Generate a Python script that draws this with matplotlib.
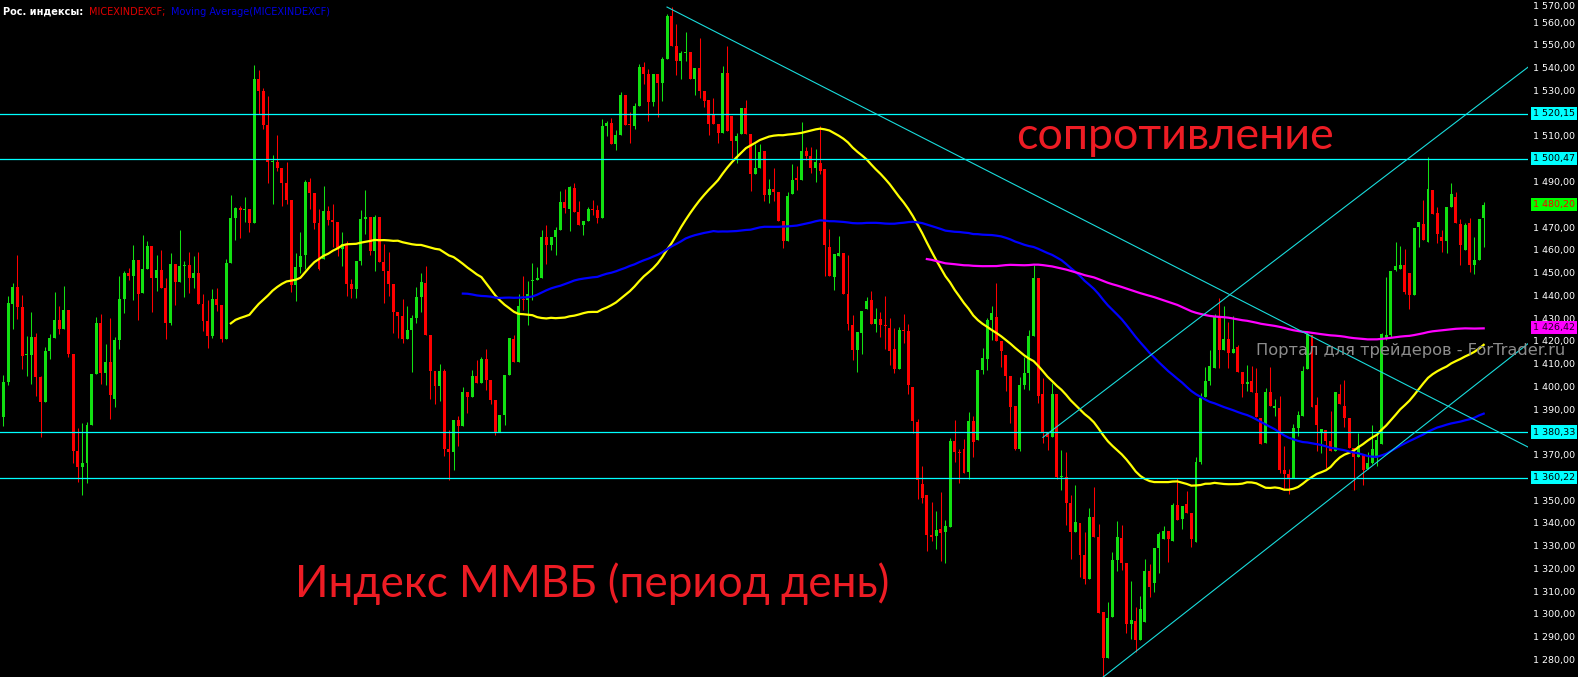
import numpy as np
import pandas as pd
import matplotlib
matplotlib.use('Agg')
import matplotlib.pyplot as plt
from matplotlib.transforms import blended_transform_factory

# Дневные свечи индекса ММВБ
opens = [
    1387.0, 1402.4, 1436.6, 1444.1, 1435.3, 1414.2, 1414.2, 1422.1, 1404.5, 1393.6,
    1416.0, 1421.7, 1429.6, 1425.6, 1434.0, 1414.7, 1372.0, 1365.0, 1366.8, 1383.5,
    1405.9, 1428.3, 1406.3, 1411.1, 1394.9, 1420.8, 1438.8, 1450.2, 1448.9, 1455.9,
    1441.5, 1452.0, 1462.1, 1448.0, 1451.6, 1443.7, 1428.3, 1454.2, 1446.3, 1453.3,
    1453.8, 1448.0, 1450.2, 1436.6, 1429.1, 1422.6, 1438.8, 1436.2, 1421.2, 1454.6,
    1474.4, 1478.8, 1477.9, 1478.4, 1472.2, 1535.5, 1530.2, 1515.3, 1499.0, 1499.0,
    1496.4, 1489.8, 1482.3, 1445.0, 1452.9, 1458.2, 1490.2, 1485.4, 1472.2, 1456.4,
    1477.5, 1473.5, 1472.6, 1460.8, 1463.0, 1445.4, 1443.2, 1455.5, 1474.0, 1474.8,
    1459.9, 1474.8, 1455.1, 1451.1, 1445.4, 1433.1, 1431.3, 1421.2, 1425.2, 1430.5,
    1439.7, 1445.9, 1423.0, 1407.2, 1400.6, 1407.2, 1372.9, 1371.6, 1385.7, 1383.0,
    1397.9, 1395.8, 1405.0, 1401.9, 1412.5, 1403.2, 1394.4, 1380.4, 1387.9, 1405.4,
    1421.2, 1411.1, 1438.8, 1438.4, 1446.7, 1447.2, 1448.0, 1466.1, 1462.5, 1466.1,
    1469.1, 1481.4, 1478.4, 1487.6, 1477.0, 1471.3, 1473.1, 1478.4, 1477.9, 1474.4,
    1514.8, 1516.2, 1506.9, 1510.9, 1528.5, 1515.7, 1514.8, 1523.6, 1540.8, 1537.7,
    1525.4, 1537.7, 1533.7, 1544.3, 1563.2, 1550.0, 1543.4, 1546.9, 1547.4, 1535.5,
    1540.3, 1530.2, 1526.3, 1519.7, 1515.7, 1511.8, 1538.1, 1519.2, 1508.2, 1511.3,
    1522.7, 1511.3, 1493.7, 1496.4, 1503.9, 1484.5, 1487.2, 1485.8, 1473.1, 1464.3,
    1484.9, 1492.0, 1491.1, 1503.9, 1501.7, 1496.4, 1498.6, 1495.9, 1461.7, 1448.5,
    1457.7, 1459.0, 1441.0, 1427.4, 1416.4, 1423.9, 1434.4, 1438.4, 1427.8, 1430.0,
    1427.4, 1426.1, 1416.8, 1408.1, 1425.2, 1424.8, 1400.1, 1384.8, 1357.5, 1352.7,
    1335.1, 1334.7, 1337.8, 1336.4, 1338.6, 1376.4, 1371.6, 1372.9, 1362.8, 1385.2,
    1376.9, 1407.6, 1412.5, 1429.6, 1430.9, 1420.4, 1414.2, 1405.0, 1391.8, 1372.9,
    1401.0, 1406.3, 1422.6, 1448.0, 1397.1, 1380.4, 1378.2, 1397.1, 1360.6, 1360.6,
    1349.2, 1336.4, 1340.4, 1326.3, 1315.8, 1343.0, 1334.2, 1301.3, 1281.1, 1299.1,
    1324.1, 1333.8, 1322.8, 1296.0, 1297.3, 1289.0, 1296.9, 1319.3, 1314.0, 1329.4,
    1333.4, 1336.9, 1332.5, 1348.3, 1342.2, 1348.7, 1344.8, 1332.0, 1367.2, 1395.8,
    1402.8, 1408.5, 1430.9, 1416.4, 1421.2, 1415.1, 1417.7, 1406.7, 1401.5, 1402.8,
    1397.5, 1386.5, 1375.5, 1398.0, 1391.0, 1391.0, 1363.7, 1362.0, 1360.2, 1382.2,
    1387.5, 1408.1, 1423.0, 1392.2, 1380.0, 1381.3, 1376.4, 1372.0, 1397.1, 1391.8,
    1386.5, 1373.4, 1369.4, 1370.3, 1364.1, 1366.8, 1369.0, 1375.1, 1421.7, 1423.0,
    1451.6, 1452.0, 1453.8, 1450.2, 1440.6, 1470.5, 1471.8, 1463.9, 1486.7, 1476.6,
    1466.1, 1464.3, 1479.2, 1483.6, 1471.8, 1460.3, 1472.2, 1453.8, 1456.0, 1474.4,
]
closes = [
    1402.4, 1437.1, 1444.1, 1435.3, 1413.8, 1414.6, 1422.1, 1404.5, 1393.6, 1416.0,
    1421.7, 1429.6, 1425.6, 1434.0, 1414.7, 1372.0, 1365.0, 1366.8, 1383.5, 1405.9,
    1428.3, 1406.3, 1411.1, 1396.6, 1420.8, 1438.8, 1450.2, 1448.9, 1455.9, 1441.0,
    1452.0, 1462.1, 1448.0, 1451.6, 1443.7, 1428.3, 1454.2, 1446.3, 1453.3, 1453.8,
    1448.0, 1450.2, 1436.6, 1429.1, 1422.6, 1438.8, 1436.2, 1421.2, 1454.6, 1474.4,
    1478.8, 1477.9, 1478.4, 1472.2, 1535.5, 1530.2, 1515.3, 1499.0, 1499.5, 1496.4,
    1489.8, 1482.3, 1445.0, 1452.9, 1457.7, 1490.2, 1485.4, 1472.2, 1452.0, 1477.5,
    1473.5, 1472.6, 1460.8, 1463.0, 1445.4, 1443.2, 1455.5, 1474.0, 1474.8, 1459.9,
    1474.8, 1455.1, 1451.1, 1445.4, 1433.1, 1431.3, 1421.2, 1425.2, 1430.5, 1439.7,
    1446.3, 1423.0, 1407.2, 1400.6, 1407.2, 1372.9, 1371.6, 1385.7, 1383.0, 1397.9,
    1395.8, 1405.0, 1401.9, 1412.5, 1403.2, 1394.4, 1380.4, 1387.9, 1405.4, 1421.7,
    1411.1, 1435.7, 1438.4, 1441.0, 1447.2, 1448.0, 1466.1, 1462.5, 1466.1, 1469.1,
    1481.4, 1478.8, 1488.0, 1477.0, 1471.3, 1473.1, 1478.4, 1477.9, 1474.4, 1514.8,
    1516.2, 1506.9, 1510.9, 1528.5, 1515.3, 1515.3, 1523.6, 1540.8, 1537.7, 1525.4,
    1537.7, 1533.7, 1544.3, 1563.2, 1550.0, 1543.4, 1546.9, 1547.4, 1535.5, 1540.3,
    1530.2, 1525.8, 1515.7, 1515.7, 1511.8, 1538.1, 1512.6, 1508.2, 1510.4, 1522.7,
    1511.3, 1493.7, 1496.4, 1503.4, 1484.5, 1487.2, 1485.8, 1473.1, 1464.3, 1484.1,
    1491.1, 1491.1, 1503.9, 1501.7, 1496.4, 1499.0, 1495.1, 1462.5, 1448.9, 1458.6,
    1459.0, 1441.0, 1427.8, 1416.4, 1424.3, 1433.5, 1437.9, 1427.8, 1430.0, 1427.4,
    1426.9, 1416.0, 1408.1, 1425.2, 1424.8, 1401.0, 1385.2, 1359.3, 1351.4, 1335.1,
    1334.2, 1337.3, 1336.0, 1339.1, 1376.4, 1371.6, 1371.1, 1362.4, 1385.2, 1376.0,
    1407.6, 1412.9, 1429.6, 1432.7, 1420.4, 1416.0, 1405.0, 1391.4, 1372.9, 1401.0,
    1406.3, 1422.6, 1448.0, 1396.2, 1380.4, 1378.2, 1397.1, 1360.6, 1361.0, 1349.2,
    1336.4, 1340.8, 1326.3, 1315.8, 1343.0, 1334.2, 1300.8, 1281.1, 1298.6, 1324.1,
    1334.2, 1322.8, 1296.0, 1297.8, 1289.0, 1302.6, 1319.3, 1312.3, 1329.4, 1335.6,
    1336.9, 1333.4, 1348.3, 1341.7, 1347.9, 1344.8, 1333.4, 1367.2, 1395.3, 1402.8,
    1409.4, 1430.9, 1416.4, 1421.2, 1415.1, 1416.8, 1406.7, 1401.5, 1402.4, 1398.0,
    1387.0, 1375.1, 1398.0, 1391.8, 1391.8, 1363.7, 1362.0, 1360.2, 1382.2, 1387.9,
    1407.2, 1423.4, 1391.4, 1383.5, 1381.7, 1376.4, 1372.0, 1398.0, 1392.7, 1386.5,
    1373.4, 1369.4, 1374.2, 1363.7, 1366.8, 1372.9, 1376.9, 1423.4, 1423.0, 1451.1,
    1453.3, 1453.8, 1441.9, 1440.6, 1470.0, 1472.6, 1464.7, 1487.2, 1476.2, 1467.4,
    1464.3, 1479.2, 1484.9, 1472.2, 1462.5, 1471.3, 1453.8, 1456.0, 1474.0, 1480.2,
]
highs = [
    1405.4, 1440.1, 1445.9, 1458.2, 1440.6, 1422.6, 1433.1, 1424.0, 1405.0, 1417.7,
    1423.4, 1441.9, 1435.7, 1444.5, 1434.0, 1414.7, 1382.1, 1384.3, 1384.8, 1405.9,
    1430.9, 1432.2, 1419.1, 1430.5, 1422.1, 1448.9, 1451.1, 1452.4, 1462.5, 1455.9,
    1466.9, 1464.3, 1462.1, 1458.2, 1460.3, 1448.0, 1459.0, 1454.2, 1469.1, 1455.5,
    1459.5, 1457.7, 1459.5, 1441.0, 1438.4, 1443.2, 1443.7, 1436.2, 1456.4, 1484.5,
    1479.2, 1479.7, 1483.6, 1478.4, 1541.6, 1539.4, 1531.5, 1528.0, 1502.1, 1510.9,
    1496.4, 1499.0, 1482.3, 1459.0, 1468.3, 1491.1, 1492.0, 1485.4, 1478.4, 1488.5,
    1479.7, 1480.6, 1472.6, 1468.3, 1464.3, 1447.6, 1455.5, 1477.9, 1486.7, 1474.8,
    1475.7, 1474.8, 1463.0, 1459.5, 1445.4, 1433.1, 1438.8, 1435.7, 1431.8, 1444.1,
    1450.2, 1453.3, 1423.0, 1407.2, 1410.3, 1408.1, 1381.3, 1385.7, 1387.4, 1400.1,
    1397.9, 1407.6, 1412.0, 1413.3, 1416.8, 1403.2, 1394.4, 1387.9, 1405.4, 1421.7,
    1423.0, 1441.0, 1448.9, 1446.7, 1454.6, 1452.9, 1469.1, 1471.3, 1466.1, 1470.5,
    1486.3, 1487.2, 1488.5, 1489.8, 1481.9, 1473.1, 1479.2, 1482.3, 1480.1, 1517.9,
    1517.0, 1518.4, 1513.1, 1529.8, 1528.5, 1521.0, 1524.9, 1542.1, 1543.0, 1539.9,
    1537.7, 1537.7, 1545.1, 1564.1, 1567.1, 1559.7, 1547.8, 1556.1, 1547.4, 1540.3,
    1553.5, 1530.2, 1526.3, 1527.1, 1515.7, 1541.2, 1550.0, 1519.2, 1511.8, 1522.7,
    1526.3, 1511.3, 1507.0, 1507.0, 1503.9, 1491.5, 1496.4, 1485.8, 1473.1, 1485.8,
    1498.1, 1497.3, 1516.6, 1505.6, 1505.6, 1504.7, 1514.8, 1495.9, 1469.6, 1458.6,
    1466.5, 1459.0, 1458.2, 1431.8, 1424.3, 1433.5, 1439.7, 1442.3, 1434.9, 1433.1,
    1440.1, 1430.5, 1426.1, 1426.5, 1432.2, 1427.8, 1400.1, 1386.1, 1365.4, 1352.7,
    1349.6, 1345.7, 1354.0, 1341.7, 1377.7, 1385.7, 1372.9, 1377.3, 1389.2, 1387.4,
    1407.6, 1417.3, 1430.5, 1435.7, 1445.9, 1420.4, 1414.2, 1405.0, 1391.8, 1404.5,
    1413.3, 1425.2, 1453.8, 1448.0, 1404.1, 1380.4, 1401.9, 1397.1, 1372.5, 1371.6,
    1352.7, 1357.1, 1340.4, 1336.4, 1347.0, 1356.2, 1340.0, 1301.3, 1305.7, 1327.6,
    1341.3, 1339.5, 1322.8, 1314.9, 1303.5, 1308.3, 1324.6, 1322.4, 1329.4, 1336.4,
    1339.1, 1336.9, 1349.2, 1360.2, 1347.9, 1354.5, 1344.8, 1369.4, 1397.5, 1408.9,
    1416.4, 1432.2, 1439.3, 1435.7, 1428.7, 1431.3, 1418.6, 1406.7, 1409.8, 1409.4,
    1408.5, 1386.5, 1399.7, 1408.9, 1395.0, 1396.2, 1374.2, 1364.0, 1383.9, 1389.6,
    1409.4, 1424.3, 1423.0, 1395.8, 1381.7, 1381.3, 1389.6, 1398.0, 1401.5, 1403.2,
    1386.5, 1373.4, 1379.9, 1370.3, 1371.6, 1383.5, 1379.1, 1423.9, 1448.5, 1451.1,
    1463.9, 1462.1, 1460.8, 1450.2, 1470.0, 1472.6, 1482.3, 1501.2, 1486.7, 1479.2,
    1469.1, 1479.2, 1489.8, 1485.8, 1474.0, 1472.2, 1474.4, 1466.1, 1474.0, 1481.4,
]
lows = [
    1383.0, 1401.0, 1425.6, 1430.0, 1408.1, 1405.0, 1401.5, 1396.2, 1378.2, 1393.6,
    1412.5, 1421.7, 1423.4, 1425.6, 1413.3, 1366.8, 1358.4, 1352.7, 1358.0, 1383.5,
    1405.9, 1401.5, 1401.0, 1386.1, 1391.4, 1416.8, 1432.7, 1447.2, 1438.4, 1429.6,
    1441.5, 1452.0, 1433.1, 1442.3, 1443.7, 1421.2, 1427.4, 1436.2, 1446.3, 1439.7,
    1441.5, 1443.7, 1436.6, 1424.8, 1417.3, 1421.7, 1433.5, 1419.9, 1421.2, 1454.6,
    1464.7, 1465.6, 1472.7, 1468.3, 1472.2, 1520.1, 1513.5, 1489.8, 1480.6, 1495.1,
    1479.7, 1480.6, 1441.9, 1437.9, 1450.2, 1452.0, 1478.4, 1469.6, 1451.6, 1456.4,
    1471.3, 1461.7, 1457.7, 1453.3, 1440.1, 1439.3, 1439.3, 1453.8, 1467.4, 1458.2,
    1451.1, 1455.1, 1437.0, 1440.1, 1423.9, 1421.7, 1419.5, 1421.2, 1406.7, 1428.3,
    1433.1, 1423.0, 1394.9, 1392.7, 1394.0, 1369.8, 1359.3, 1363.7, 1374.2, 1383.0,
    1388.7, 1395.8, 1401.9, 1401.9, 1398.8, 1392.7, 1379.1, 1380.4, 1383.5, 1405.4,
    1411.1, 1411.1, 1434.0, 1427.4, 1438.4, 1447.2, 1448.0, 1454.2, 1460.3, 1458.2,
    1469.1, 1476.6, 1468.7, 1477.0, 1471.3, 1466.9, 1473.1, 1475.7, 1472.2, 1474.4,
    1510.4, 1506.9, 1504.3, 1510.9, 1515.3, 1507.4, 1513.5, 1523.6, 1533.3, 1517.0,
    1523.6, 1518.8, 1525.8, 1544.3, 1550.0, 1537.2, 1535.5, 1543.4, 1535.5, 1528.5,
    1527.1, 1523.2, 1510.9, 1515.7, 1507.4, 1511.8, 1512.6, 1500.8, 1498.6, 1511.3,
    1511.3, 1486.3, 1493.7, 1496.4, 1481.9, 1481.0, 1482.0, 1473.1, 1461.2, 1464.3,
    1484.9, 1486.7, 1491.1, 1499.9, 1494.2, 1490.2, 1493.7, 1448.9, 1448.9, 1442.8,
    1457.7, 1441.0, 1425.2, 1412.0, 1406.7, 1414.7, 1434.4, 1427.8, 1424.3, 1422.1,
    1416.8, 1409.8, 1406.3, 1408.1, 1419.5, 1397.1, 1380.0, 1350.9, 1349.2, 1328.1,
    1332.5, 1329.0, 1323.7, 1322.8, 1338.6, 1367.2, 1358.0, 1362.4, 1359.7, 1369.4,
    1376.9, 1405.9, 1407.6, 1420.8, 1420.4, 1408.9, 1398.4, 1384.3, 1372.5, 1372.0,
    1399.3, 1398.8, 1422.6, 1393.1, 1375.5, 1372.5, 1378.2, 1359.7, 1354.9, 1339.5,
    1324.6, 1336.4, 1316.7, 1313.6, 1315.8, 1334.2, 1300.8, 1272.7, 1281.1, 1299.1,
    1319.3, 1319.7, 1292.1, 1289.4, 1283.7, 1289.0, 1296.9, 1307.9, 1310.1, 1318.4,
    1333.4, 1323.3, 1332.5, 1341.7, 1337.8, 1344.8, 1329.9, 1332.0, 1366.3, 1395.8,
    1401.0, 1408.5, 1408.5, 1416.4, 1408.5, 1415.1, 1406.7, 1395.8, 1398.4, 1398.0,
    1387.0, 1375.1, 1375.5, 1391.8, 1387.4, 1362.4, 1354.9, 1353.1, 1360.2, 1378.6,
    1387.5, 1408.1, 1391.4, 1372.0, 1371.1, 1364.6, 1372.0, 1372.0, 1392.7, 1382.6,
    1373.4, 1354.9, 1369.4, 1357.1, 1364.1, 1366.3, 1365.4, 1375.1, 1420.8, 1422.1,
    1451.1, 1452.0, 1441.0, 1434.4, 1440.6, 1461.7, 1464.7, 1463.9, 1476.2, 1463.4,
    1459.5, 1459.0, 1479.2, 1472.2, 1453.8, 1460.3, 1450.7, 1449.8, 1456.0, 1461.7,
]

# периоды скользящих средних
ma_periods = [50, 100, 200]
ma_colors = ['#FFFF00', '#0000FF', '#FF00FF']

# горизонтальные уровни
levels = [1520.15, 1500.47, 1380.33, 1360.22]

# трендовые линии: индекс свечи начала, цена начала, наклон (пунктов на свечу)
tl_start_idx = [143, 224, 237]
tl_start_price = [1567.1, 1378.0, 1272.7]
tl_slope = [-1.042, 1.556, 1.600]

# метки на шкале цен
price_ticks = list(range(1570, 1260, -10))
hidden_ticks = [1520, 1500, 1480, 1380, 1360]
box_values = [1520.15, 1500.47, 1480.20, 1426.42, 1380.33, 1360.22]
box_face = ['#00FFFF', '#00FFFF', '#00FF00', '#FF00FF', '#00FFFF', '#00FFFF']
box_text = ['#000000', '#000000', '#FF0000', '#200020', '#000000', '#000000']

assert len(opens) == len(closes) == len(highs) == len(lows)

W, H = 1578, 677
fig = plt.figure(figsize=(W / 100, H / 100), dpi=100, facecolor='black')
ax = fig.add_axes([0, 0, 1528 / W, 1])
ax.set_facecolor('black')
for sp in ax.spines.values():
    sp.set_visible(False)
ax.set_xticks([])
ax.set_yticks([])

n = len(closes)
x = np.arange(n)
o = np.array(opens)
c = np.array(closes)
h = np.array(highs)
l = np.array(lows)
up = c >= o
cols = np.where(up, '#12E012', '#FF0000')

y_top = 1570.2
ax.set_xlim(-0.75, 328.55)
ax.set_ylim(1272.7, y_top)

# свечи
ax.vlines(x, l, h, colors=cols, linewidth=0.75, zorder=2)
body_bottom = np.minimum(o, c)
body_h = np.maximum(np.abs(c - o), 0.45)
ax.bar(x, body_h, bottom=body_bottom, width=0.64, color=cols, linewidth=0, zorder=3)

# скользящие средние
s = pd.Series(closes)
for p, col in zip(ma_periods, ma_colors):
    ma = s.rolling(p).mean()
    ax.plot(x, ma, color=col, linewidth=1.6, zorder=4)

# уровни
for lv in levels:
    ax.axhline(lv, color='#00FFFF', linewidth=0.9, zorder=5)

# трендовые линии
x_end = 328.55
for i0, p0, k in zip(tl_start_idx, tl_start_price, tl_slope):
    ax.plot([i0, x_end], [p0, p0 + k * (x_end - i0)], color='#19DCDC', linewidth=0.8, zorder=5)

# шкала цен справа
trans = blended_transform_factory(ax.transAxes, ax.transData)
lab_x = 1533 / 1528


def fmt(v):
    return f"{v:,.2f}".replace(',', ' ').replace('.', ',')


for t in price_ticks:
    if t in hidden_ticks:
        continue
    # верхнюю метку терминал сдвигает внутрь окна
    ty = min(t, y_top - 3.0)
    ax.text(lab_x, ty, fmt(t), transform=trans, color='white', fontsize=6.8,
            va='center', ha='left', clip_on=False, zorder=6)

for v, fc, tc in zip(box_values, box_face, box_text):
    ax.text(lab_x, v, fmt(v), transform=trans, color=tc, fontsize=6.8,
            va='center', ha='left', clip_on=False, zorder=7,
            bbox=dict(boxstyle='square,pad=0.22', fc=fc, ec='none'))


# заголовок
def fy(py):
    return 1 - py / H


fig.text(3 / W, fy(15), 'Рос. индексы:', color='white', fontsize=7, fontweight='bold', va='baseline')
fig.text(89 / W, fy(15), 'MICEXINDEXCF;', color='#E00000', fontsize=7, va='baseline')
fig.text(171 / W, fy(15), 'Moving Average(MICEXINDEXCF)', color='#0000E0', fontsize=7, va='baseline')

# подписи
fig.text(1016 / W, fy(149), 'сопротивление', color='#ED1C24', fontsize=32.3,
         family=['Lato', 'DejaVu Sans'], va='baseline')
fig.text(295 / W, fy(597), 'Индекс ММВБ (период день)', color='#ED1C24', fontsize=31.7,
         family=['Lato', 'DejaVu Sans'], va='baseline')
fig.text(1256 / W, fy(355), 'Портал для трейдеров - ForTrader.ru', color='#8C8C8C',
         fontsize=11.7, va='baseline', zorder=8)

fig.savefig('out.png', dpi=100, facecolor='black')
